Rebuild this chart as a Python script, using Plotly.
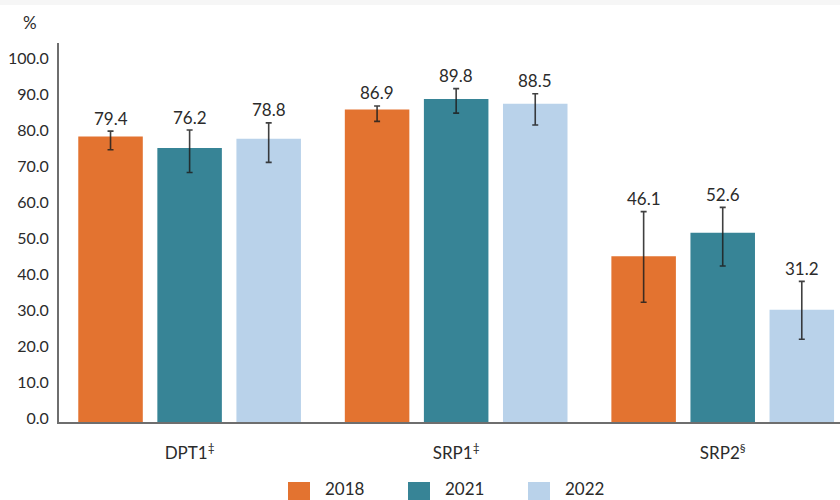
import plotly.graph_objects as go

categories = ["DPT1<sup>‡</sup>", "SRP1<sup>‡</sup>", "SRP2<sup>§</sup>"]
series_names = ["2018", "2021", "2022"]
values_2018 = [79.4, 86.9, 46.1]
values_2021 = [76.2, 89.8, 52.6]
values_2022 = [78.8, 88.5, 31.2]
err_plus_2018 = [1.5, 1.0, 12.4]
err_minus_2018 = [3.7, 3.3, 12.8]
err_plus_2021 = [5.0, 2.9, 7.1]
err_minus_2021 = [6.8, 3.9, 9.2]
err_plus_2022 = [4.4, 2.8, 7.9]
err_minus_2022 = [6.6, 5.9, 8.2]
y_ticks = [0, 10, 20, 30, 40, 50, 60, 70, 80, 90, 100]
y_tick_labels = [f"{v:.1f}" for v in y_ticks]

colors = ["#E37330", "#378496", "#B9D2EA"]
values = [values_2018, values_2021, values_2022]
plus = [err_plus_2018, err_plus_2021, err_plus_2022]
minus = [err_minus_2018, err_minus_2021, err_minus_2022]

FONT = "Lato"
TXT = "#2b2b2b"

fig = go.Figure()
for name, vals, p, m, c in zip(series_names, values, plus, minus, colors):
    fig.add_trace(go.Bar(
        x=list(range(len(categories))), y=vals, name=name,
        marker=dict(color=c, line=dict(width=0)),
        error_y=dict(type="data", symmetric=False, array=p, arrayminus=m,
                     color="rgba(30,30,30,0.85)", thickness=1.6, width=3),
        showlegend=False, hoverinfo="skip",
    ))

slot = 0.2964
annotations = []
for k, (vals, p) in enumerate(zip(values, plus)):
    for i, v in enumerate(vals):
        annotations.append(dict(
            x=i + (k - 1) * slot, y=v + p[i], xref="x", yref="y",
            text=f"{v:.1f}", showarrow=False, yanchor="middle", yshift=13,
            font=dict(family=FONT, size=17, color=TXT),
        ))

plot_w = 781.0
plot_h = 379.0

annotations.append(dict(x=(30 - 59) / plot_w, y=(422 - 22) / plot_h, xref="paper", yref="paper",
                        text="%", showarrow=False, xanchor="center", yanchor="middle",
                        font=dict(family=FONT, size=17, color=TXT)))

# legend (manual)
shapes = [dict(type="rect", xref="paper", yref="paper", x0=-59 / plot_w, x1=1.0,
               y0=(422 - 5) / plot_h, y1=(422 + 2) / plot_h,
               fillcolor="#f6f6f6", line=dict(width=0), layer="below")]
for k, (name, c) in enumerate(zip(series_names, colors)):
    x0 = (288 + 120 * k - 59) / plot_w
    x1 = (310 + 120 * k - 59) / plot_w
    shapes.append(dict(type="rect", xref="paper", yref="paper",
                       x0=x0, x1=x1, y0=(422 - 482) / plot_h, y1=(422 - 504) / plot_h,
                       fillcolor=c, line=dict(width=0), layer="above"))
    annotations.append(dict(x=(323 + 120 * k - 59) / plot_w, y=(422 - 488) / plot_h,
                            xref="paper", yref="paper", text=name, showarrow=False,
                            xanchor="left", yanchor="middle",
                            font=dict(family=FONT, size=17, color=TXT)))

fig.update_layout(
    width=840, height=500,
    margin=dict(l=59, r=0, t=43, b=78),
    paper_bgcolor="white", plot_bgcolor="white",
    barmode="group", bargap=0.11, bargroupgap=0.184,
    annotations=annotations, shapes=shapes,
    font=dict(family=FONT, color=TXT),
    hovermode=False,
)
fig.update_xaxes(
    range=[-0.49, 2.44], tickmode="array", tickvals=list(range(len(categories))),
    ticktext=categories, showgrid=False, zeroline=False,
    showline=True, linecolor="#6e6e6e", linewidth=2, ticks="",
    tickfont=dict(family=FONT, size=17, color=TXT), ticklabelstandoff=15,
)
fig.update_yaxes(
    range=[0, 105.4], tickmode="array", tickvals=y_ticks, ticktext=y_tick_labels,
    showgrid=False, zeroline=False, showline=True, linecolor="#6e6e6e", linewidth=2,
    ticks="", tickfont=dict(family=FONT, size=16, color=TXT), ticklabelstandoff=5,
    ticklabelshift=-4,
)

fig.write_html("out.html", config={"displayModeBar": False},
               post_script="document.body.style.margin='0';document.body.style.overflow='hidden';")
